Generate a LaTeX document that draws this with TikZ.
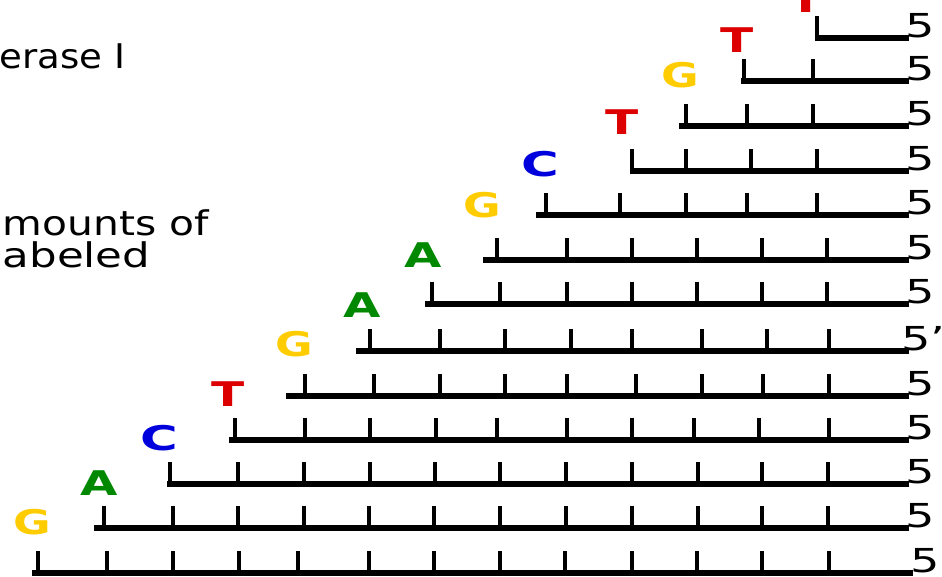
\documentclass[tikz,border=0pt]{standalone}
\usepackage{fontspec}
\setmainfont{DejaVu Sans}
\usepackage{graphicx}
\definecolor{dnared}{RGB}{221,0,0}
\definecolor{dnagold}{RGB}{255,204,0}
\definecolor{dnablue}{RGB}{0,0,221}
\definecolor{dnagreen}{RGB}{0,136,0}
\begin{document}
\begin{tikzpicture}[x=1pt,y=-1pt,
  strand/.style={line width=5.5pt},
  tickmark/.style={line width=4pt},
  basechar/.style={font=\fontsize{34}{40}\selectfont\bfseries, inner sep=0pt},
  endlabel/.style={font=\fontsize{33}{40}\selectfont, inner sep=0pt},
  sidetext/.style={font=\fontsize{34}{40}\selectfont, inner sep=0pt, anchor=base east}]
\useasboundingbox (0,0) rectangle (942,576);

\foreach \n/\y/\s/\e/\ticks/\b/\col/\sc/\lx/\ly in {
  0/38/815/909/{817}/T/dnared/1.43/806/0,
  1/81/741/909/{744,813}/T/dnared/1.43/737/40,
  2/126/679/909/{686,747,813}/G/dnagold/1.35/680/75,
  3/171/630/909/{632,686,751,817}/T/dnared/1.43/622/122,
  4/215/536/909/{546,620,686,747,817}/C/dnablue/1.51/540.5/164.5,
  5/260/483/909/{497,567,632,697,762,827}/G/dnagold/1.35/482.5/205.5,
  6/304/425/909/{432,500,567,632,697,762,827}/A/dnagreen/1.42/423.5/255.5,
  7/351/356/909/{370,440,505,571,632,702,767,829}/A/dnagreen/1.42/362/305.5,
  8/396/286/909/{305,374,440,505,567,636,702,763,829}/G/dnagold/1.35/294.5/344.5,
  9/440/229/909/{235,305,370,436,497,567,632,694,759,829}/T/dnared/1.43/228.5/394.5,
  10/484/167/909/{170,238,304,370,435,500,566,632,698,762,828}/C/dnablue/1.51/159.5/438.5,
  11/528/94/909/{104,173,238,304,369,434,500,566,632,698,762,828}/A/dnagreen/1.42/99.5/483.5,
  12/573/32/913/{38,107,173,239,298,369,434,500,565,632,697,762,829}/G/dnagold/1.35/32.5/522}
{
  \coordinate (S\n) at (\s,\y);
  \coordinate (F\n) at (\e,\y);
  \draw[strand] (S\n) -- (F\n);
  \foreach \t in \ticks {\draw[tickmark] (\t,\y) -- (\t,\y-22);}
  \node[basechar, text=\col] (B\n) at (\lx,\ly) {\scalebox{\sc}[1]{\b}};
}

\foreach \n/\x/\y in {0/920.5/26, 1/920.5/69, 2/920.5/114, 3/920.5/159, 4/920.5/203,
  5/920.5/248, 6/920.5/292, 8/920.5/384, 9/920.5/428, 10/920.5/472, 11/920.5/516, 12/925/561}
{
  \node[endlabel] (P\n) at (\x,\y) {\scalebox{1.4}[1]{5}};
}
\node[endlabel, anchor=west] (P7) at (901,339) {\scalebox{1.4}[1]{5'}};

\node[sidetext] (pol) at (125.6,68) {\scalebox{1.09}[1]{erase I}};
\node[sidetext] (amt) at (209,235) {\scalebox{1.2}[1]{mounts of}};
\node[sidetext] (lab) at (150.5,267) {\scalebox{1.28}[1]{abeled}};
\end{tikzpicture}
\end{document}
